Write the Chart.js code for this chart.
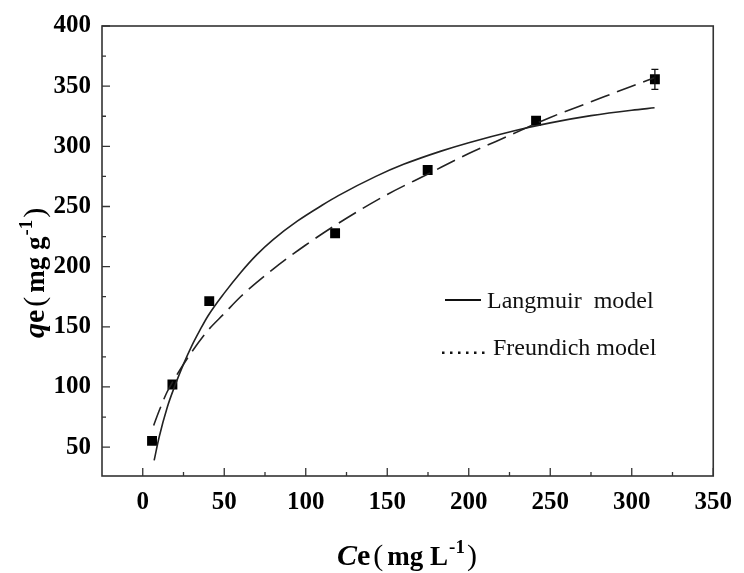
<!DOCTYPE html>
<html>
<head>
<meta charset="utf-8">
<script src="https://cdn.jsdelivr.net/npm/chart.js@4.4.1/dist/chart.umd.min.js"></script>
<style>
  body { margin: 0; background: #fff; }
  #wrap { width: 744px; height: 573px; }
</style>
</head>
<body>
<div id="wrap"><canvas id="isotherm" width="744" height="573"></canvas></div>
<script>
const expCe = [5.7, 18.2, 40.8, 118.0, 174.8, 241.3, 314.2];
const expQe = [55.2, 102.0, 171.3, 227.7, 280.3, 321.3, 355.7];
const expErr = [0, 0, 0, 0, 0, 0, 8.3];

// fitted curves
const langCe = [7, 10, 15, 20, 25, 30, 35, 40, 50, 60, 70, 80, 95, 110, 120, 143, 160, 183, 200, 228, 250, 275, 300, 314];
const langQe = [39, 58, 83, 102, 119, 134, 147, 159, 178, 195, 210, 222.5, 238, 251, 259, 275, 285, 296, 303, 313, 319.5, 325.5, 330, 332];
const freCe = [6.7, 10, 15, 20, 30, 40, 50, 60, 80, 100, 120, 150, 175, 200, 225, 250, 275, 300, 314];
const freQe = [68, 80, 96, 108, 129, 147, 161, 175, 198, 218, 236, 260, 277, 294, 309, 324, 337, 350, 357];

// axes
const xMajor = [0, 50, 100, 150, 200, 250, 300, 350];
const xMinor = [25, 75, 125, 175, 225, 275, 325];
const yMajor = [50, 100, 150, 200, 250, 300, 350, 400];
const yMinor = [75, 125, 175, 225, 275, 325, 375];
const legendLabels = ['Langmuir  model', 'Freundich model'];

const serif = '"Liberation Serif", "Times New Roman", serif';
const pts = (xs, ys) => xs.map((x, i) => ({ x: x, y: ys[i] }));

function drawRich(ctx, parts, x, y, angle) {
  ctx.save();
  ctx.translate(x, y);
  ctx.rotate(angle);
  ctx.fillStyle = '#000';
  ctx.textAlign = 'left';
  ctx.textBaseline = 'alphabetic';
  let cx = 0;
  parts.forEach(p => {
    ctx.font = p.font;
    cx += p.pre || 0;
    ctx.fillText(p.t, cx, p.dy || 0);
    cx += ctx.measureText(p.t).width;
  });
  ctx.restore();
}

function titleParts(sym, unit) {
  return [
    { t: sym[0], font: 'italic bold 30px ' + serif },
    { t: sym[1], font: 'bold 30px ' + serif },
    { t: '(', font: '30px ' + serif, pre: 3 },
    { t: unit, font: 'bold 27px ' + serif, pre: 4 },
    { t: '-1', font: 'bold 19px ' + serif, dy: -12, pre: 1 },
    { t: ')', font: '30px ' + serif, pre: 2 }
  ];
}

const extras = {
  id: 'extras',
  afterDatasetsDraw(chart) {
    const ctx = chart.ctx, a = chart.chartArea;
    const xs = chart.scales.x, ys = chart.scales.y;
    ctx.save();
    // error bars
    ctx.strokeStyle = '#111';
    ctx.lineWidth = 1.3;
    expErr.forEach((e, i) => {
      if (!e) return;
      const px = xs.getPixelForValue(expCe[i]);
      const top = ys.getPixelForValue(expQe[i] + e);
      const bot = ys.getPixelForValue(expQe[i] - e);
      ctx.beginPath();
      ctx.moveTo(px, top); ctx.lineTo(px, bot);
      ctx.moveTo(px - 3.5, top); ctx.lineTo(px + 3.5, top);
      ctx.moveTo(px - 3.5, bot); ctx.lineTo(px + 3.5, bot);
      ctx.stroke();
    });
    // frame
    ctx.strokeStyle = '#333';
    ctx.lineWidth = 1.6;
    ctx.strokeRect(a.left, a.top, a.right - a.left, a.bottom - a.top);
    // inward ticks
    ctx.lineWidth = 1.3;
    ctx.beginPath();
    xMajor.forEach(v => { const p = xs.getPixelForValue(v); ctx.moveTo(p, a.bottom); ctx.lineTo(p, a.bottom - 8); });
    xMinor.forEach(v => { const p = xs.getPixelForValue(v); ctx.moveTo(p, a.bottom); ctx.lineTo(p, a.bottom - 4); });
    yMajor.forEach(v => { const p = ys.getPixelForValue(v); ctx.moveTo(a.left, p); ctx.lineTo(a.left + 8, p); });
    yMinor.forEach(v => { const p = ys.getPixelForValue(v); ctx.moveTo(a.left, p); ctx.lineTo(a.left + 4, p); });
    ctx.stroke();
    // legend
    ctx.strokeStyle = '#111';
    ctx.lineWidth = 2;
    ctx.beginPath(); ctx.moveTo(445, 300); ctx.lineTo(481, 300); ctx.stroke();
    ctx.fillStyle = '#111';
    for (let i = 0; i < 6; i++) ctx.fillRect(442 + i * 8, 351.5, 2.5, 2.5);
    ctx.font = '24px ' + serif;
    ctx.textBaseline = 'alphabetic';
    ctx.fillText(legendLabels[0], 487, 308);
    ctx.fillText(legendLabels[1], 493, 355);
    ctx.restore();
    // axis titles
    drawRich(ctx, titleParts('Ce', 'mg L'), 337, 565, 0);
    drawRich(ctx, titleParts('qe', 'mg g'), 44, 338, -Math.PI / 2);
  }
};

new Chart(document.getElementById('isotherm'), {
  type: 'scatter',
  data: {
    datasets: [
      {
        label: 'Langmuir',
        data: pts(langCe, langQe),
        showLine: true,
        borderColor: '#222',
        borderWidth: 1.6,
        pointRadius: 0,
        cubicInterpolationMode: 'monotone'
      },
      {
        label: 'Freundich',
        data: pts(freCe, freQe),
        showLine: true,
        borderColor: '#222',
        borderWidth: 1.6,
        borderDash: [20, 8],
        pointRadius: 0,
        cubicInterpolationMode: 'monotone'
      },
      {
        label: 'qe',
        data: pts(expCe, expQe),
        pointStyle: 'rect',
        pointRadius: 7,
        backgroundColor: '#000',
        borderColor: '#000',
        borderWidth: 0
      }
    ]
  },
  options: {
    responsive: false,
    animation: false,
    layout: { padding: { top: 23, right: 23, left: 0, bottom: 0 } },
    plugins: { legend: { display: false }, tooltip: { enabled: false } },
    scales: {
      x: {
        type: 'linear', min: -25, max: 350,
        grid: { display: false, drawTicks: false },
        border: { display: false },
        afterBuildTicks: s => { s.ticks = xMajor.map(v => ({ value: v })); },
        afterFit: s => { s.height = 97; },
        ticks: { color: '#000', padding: 12, maxRotation: 0, font: { family: serif, size: 25, weight: 'bold' } }
      },
      y: {
        type: 'linear', min: 26, max: 400,
        grid: { display: false, drawTicks: false },
        border: { display: false },
        afterBuildTicks: s => { s.ticks = yMajor.map(v => ({ value: v })); },
        afterFit: s => { s.width = 102; },
        ticks: { color: '#000', padding: 11, font: { family: serif, size: 25, weight: 'bold' } }
      }
    }
  },
  plugins: [extras]
});
</script>
</body>
</html>
